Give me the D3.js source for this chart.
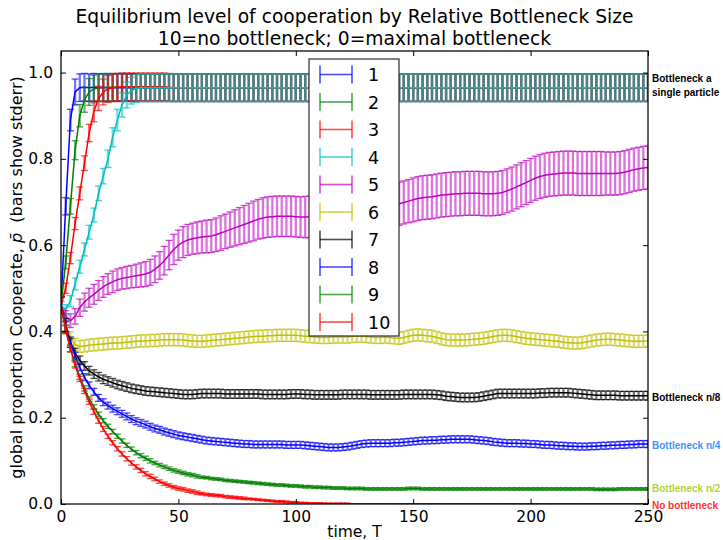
<!DOCTYPE html>
<html lang="en">
<head>
<meta charset="utf-8">
<title>Equilibrium level of cooperation by Relative Bottleneck Size</title>
<script src="https://cdn.jsdelivr.net/npm/d3@7"></script>
<style>
body { margin: 0; background: #fff; }
text { font-family: "DejaVu Sans", sans-serif; }
.note { font-family: "Liberation Sans", Arial, sans-serif; font-weight: bold; font-size: 10px; }
</style>
</head>
<body>
<script>
// sample times (every 2 steps of T)
var T = d3.range(0, 251, 2);

var labels = ["1", "2", "3", "4", "5", "6", "7", "8", "9", "10"];
var colors = ["#0000ff", "#008000", "#ff0000", "#00bfbf", "#bf00bf", "#bfbf00", "#000000", "#0000ff", "#008000", "#ff0000"];

// mean proportion cooperating, one array per bottleneck size
var p1 = [0.46, 0.69, 0.89, 0.955, 0.965, 0.966, 0.965, 0.966, 0.965, 0.965,
    0.965, 0.965, 0.965, 0.965, 0.965, 0.965, 0.965, 0.965, 0.965, 0.965,
    0.965, 0.965, 0.965, 0.965, 0.965, 0.965, 0.965, 0.965, 0.965, 0.965,
    0.965, 0.965, 0.965, 0.965, 0.965, 0.965, 0.965, 0.965, 0.965, 0.965,
    0.965, 0.965, 0.965, 0.965, 0.965, 0.965, 0.965, 0.965, 0.965, 0.965,
    0.965, 0.965, 0.965, 0.965, 0.965, 0.965, 0.965, 0.965, 0.965, 0.965,
    0.965, 0.965, 0.965, 0.965, 0.965, 0.965, 0.965, 0.965, 0.965, 0.965,
    0.965, 0.965, 0.965, 0.965, 0.965, 0.965, 0.965, 0.965, 0.965, 0.965,
    0.965, 0.965, 0.965, 0.965, 0.965, 0.965, 0.965, 0.965, 0.965, 0.965,
    0.965, 0.965, 0.965, 0.965, 0.965, 0.965, 0.965, 0.965, 0.965, 0.965,
    0.965, 0.965, 0.965, 0.965, 0.965, 0.965, 0.965, 0.965, 0.965, 0.965,
    0.965, 0.965, 0.965, 0.965, 0.965, 0.965, 0.965, 0.965, 0.965, 0.965,
    0.965, 0.965, 0.965, 0.965, 0.965, 0.965];
var p2 = [0.46, 0.56, 0.69, 0.82, 0.9, 0.937, 0.955, 0.962, 0.965, 0.966,
    0.966, 0.966, 0.966, 0.966, 0.966, 0.965, 0.965, 0.965, 0.965, 0.965,
    0.965, 0.965, 0.965, 0.965, 0.965, 0.965, 0.965, 0.965, 0.965, 0.965,
    0.965, 0.965, 0.965, 0.965, 0.965, 0.965, 0.965, 0.965, 0.965, 0.965,
    0.965, 0.965, 0.965, 0.965, 0.965, 0.965, 0.965, 0.965, 0.965, 0.965,
    0.965, 0.965, 0.965, 0.965, 0.965, 0.965, 0.965, 0.965, 0.965, 0.965,
    0.965, 0.965, 0.965, 0.965, 0.965, 0.965, 0.965, 0.965, 0.965, 0.965,
    0.965, 0.965, 0.965, 0.965, 0.965, 0.965, 0.965, 0.965, 0.965, 0.965,
    0.965, 0.965, 0.965, 0.965, 0.965, 0.965, 0.965, 0.965, 0.965, 0.965,
    0.965, 0.965, 0.965, 0.965, 0.965, 0.965, 0.965, 0.965, 0.965, 0.965,
    0.965, 0.965, 0.965, 0.965, 0.965, 0.965, 0.965, 0.965, 0.965, 0.965,
    0.965, 0.965, 0.965, 0.965, 0.965, 0.965, 0.965, 0.965, 0.965, 0.965,
    0.965, 0.965, 0.965, 0.965, 0.965, 0.965];
var p3 = [0.46, 0.5, 0.57, 0.65, 0.72, 0.79, 0.86, 0.91, 0.94, 0.955,
    0.962, 0.965, 0.966, 0.967, 0.967, 0.967, 0.967, 0.967, 0.967, 0.967,
    0.967, 0.967, 0.967, 0.966, 0.965, 0.965, 0.965, 0.965, 0.965, 0.965,
    0.965, 0.965, 0.965, 0.965, 0.965, 0.965, 0.965, 0.965, 0.965, 0.965,
    0.965, 0.965, 0.965, 0.965, 0.965, 0.965, 0.965, 0.965, 0.965, 0.965,
    0.965, 0.965, 0.965, 0.965, 0.965, 0.965, 0.965, 0.965, 0.965, 0.965,
    0.965, 0.965, 0.965, 0.965, 0.965, 0.965, 0.965, 0.965, 0.965, 0.965,
    0.965, 0.965, 0.965, 0.965, 0.965, 0.965, 0.965, 0.965, 0.965, 0.965,
    0.965, 0.965, 0.965, 0.965, 0.965, 0.965, 0.965, 0.965, 0.965, 0.965,
    0.965, 0.965, 0.965, 0.965, 0.965, 0.965, 0.965, 0.965, 0.965, 0.965,
    0.965, 0.965, 0.965, 0.965, 0.965, 0.965, 0.965, 0.965, 0.965, 0.965,
    0.965, 0.965, 0.965, 0.965, 0.965, 0.965, 0.965, 0.965, 0.965, 0.965,
    0.965, 0.965, 0.965, 0.965, 0.965, 0.965];
var p4 = [0.46, 0.45, 0.47, 0.51, 0.55, 0.59, 0.63, 0.67, 0.72, 0.76,
    0.80, 0.85, 0.89, 0.925, 0.948, 0.958, 0.963, 0.965, 0.965, 0.965,
    0.965, 0.965, 0.965, 0.965, 0.965, 0.965, 0.965, 0.965, 0.965, 0.965,
    0.965, 0.965, 0.965, 0.965, 0.965, 0.965, 0.965, 0.965, 0.965, 0.965,
    0.965, 0.965, 0.965, 0.965, 0.965, 0.965, 0.965, 0.965, 0.965, 0.965,
    0.965, 0.965, 0.965, 0.965, 0.965, 0.965, 0.965, 0.965, 0.965, 0.965,
    0.965, 0.965, 0.965, 0.965, 0.965, 0.965, 0.965, 0.965, 0.965, 0.965,
    0.965, 0.965, 0.965, 0.965, 0.965, 0.965, 0.965, 0.965, 0.965, 0.965,
    0.965, 0.965, 0.965, 0.965, 0.965, 0.965, 0.965, 0.965, 0.965, 0.965,
    0.965, 0.965, 0.965, 0.965, 0.965, 0.965, 0.965, 0.965, 0.965, 0.965,
    0.965, 0.965, 0.965, 0.965, 0.965, 0.965, 0.965, 0.965, 0.965, 0.965,
    0.965, 0.965, 0.965, 0.965, 0.965, 0.965, 0.965, 0.965, 0.965, 0.965,
    0.965, 0.965, 0.965, 0.965, 0.965, 0.965];
var p5 = [0.46, 0.435, 0.425, 0.435, 0.455, 0.468, 0.478, 0.486, 0.495, 0.503,
    0.51, 0.515, 0.52, 0.523, 0.525, 0.527, 0.529, 0.531, 0.533, 0.537,
    0.544, 0.553, 0.564, 0.577, 0.59, 0.6, 0.607, 0.612, 0.615, 0.617,
    0.619, 0.62, 0.621, 0.624, 0.628, 0.632, 0.636, 0.64, 0.644, 0.648,
    0.652, 0.656, 0.66, 0.663, 0.665, 0.666, 0.667, 0.667, 0.667, 0.667,
    0.666, 0.665, 0.665, 0.666, 0.667, 0.669, 0.671, 0.673, 0.675, 0.677,
    0.679, 0.681, 0.683, 0.685, 0.687, 0.689, 0.69, 0.691, 0.692, 0.693,
    0.694, 0.695, 0.696, 0.699, 0.702, 0.705, 0.708, 0.71, 0.711, 0.712,
    0.714, 0.716, 0.717, 0.718, 0.719, 0.719, 0.72, 0.72, 0.72, 0.72,
    0.719, 0.719, 0.719, 0.72, 0.722, 0.726, 0.73, 0.735, 0.74, 0.745,
    0.75, 0.755, 0.759, 0.762, 0.764, 0.765, 0.766, 0.767, 0.767, 0.767,
    0.766, 0.766, 0.766, 0.766, 0.766, 0.766, 0.766, 0.766, 0.766, 0.767,
    0.769, 0.772, 0.775, 0.777, 0.779, 0.78];
var p6 = [0.46, 0.41, 0.385, 0.37, 0.365, 0.366, 0.368, 0.369, 0.37, 0.371,
    0.372, 0.373, 0.373, 0.374, 0.375, 0.376, 0.377, 0.378, 0.378, 0.379,
    0.379, 0.38, 0.381, 0.381, 0.381, 0.381, 0.38, 0.379, 0.378, 0.377,
    0.377, 0.378, 0.379, 0.38, 0.381, 0.382, 0.383, 0.384, 0.385, 0.386,
    0.387, 0.388, 0.389, 0.389, 0.39, 0.39, 0.391, 0.391, 0.391, 0.391,
    0.391, 0.39, 0.389, 0.388, 0.387, 0.386, 0.386, 0.386, 0.387, 0.387,
    0.387, 0.387, 0.388, 0.389, 0.389, 0.388, 0.387, 0.386, 0.386, 0.387,
    0.386, 0.385, 0.384, 0.386, 0.389, 0.391, 0.392, 0.391, 0.39, 0.389,
    0.386, 0.383, 0.381, 0.38, 0.38, 0.38, 0.38, 0.381, 0.382, 0.383,
    0.384, 0.386, 0.388, 0.39, 0.391, 0.391, 0.39, 0.388, 0.386, 0.384,
    0.383, 0.382, 0.381, 0.38, 0.379, 0.378, 0.377, 0.375, 0.374, 0.373,
    0.373, 0.374, 0.376, 0.378, 0.38, 0.381, 0.382, 0.382, 0.381, 0.38,
    0.379, 0.378, 0.377, 0.377, 0.377, 0.378];
var p7 = [0.46, 0.415, 0.375, 0.35, 0.333, 0.32, 0.309, 0.301, 0.295, 0.289,
    0.285, 0.281, 0.277, 0.274, 0.271, 0.268, 0.266, 0.264, 0.262, 0.261,
    0.26, 0.259, 0.258, 0.257, 0.256, 0.255, 0.254, 0.254, 0.254, 0.255,
    0.256, 0.256, 0.256, 0.256, 0.256, 0.255, 0.255, 0.255, 0.255, 0.255,
    0.255, 0.255, 0.255, 0.254, 0.254, 0.254, 0.254, 0.254, 0.254, 0.255,
    0.255, 0.255, 0.254, 0.254, 0.253, 0.253, 0.253, 0.253, 0.253, 0.253,
    0.254, 0.254, 0.254, 0.254, 0.254, 0.254, 0.253, 0.253, 0.253, 0.253,
    0.253, 0.253, 0.253, 0.254, 0.254, 0.254, 0.254, 0.254, 0.254, 0.254,
    0.253, 0.252, 0.25, 0.249, 0.248, 0.247, 0.247, 0.247, 0.247, 0.248,
    0.25, 0.252, 0.254, 0.256, 0.256, 0.256, 0.256, 0.256, 0.256, 0.256,
    0.256, 0.256, 0.257, 0.257, 0.258, 0.258, 0.258, 0.258, 0.258, 0.257,
    0.256, 0.255, 0.254, 0.253, 0.252, 0.252, 0.252, 0.252, 0.252, 0.251,
    0.251, 0.251, 0.251, 0.251, 0.251, 0.251];
var p8 = [0.46, 0.412, 0.373, 0.343, 0.317, 0.294, 0.275, 0.26, 0.246, 0.236,
    0.228, 0.221, 0.215, 0.209, 0.203, 0.197, 0.192, 0.188, 0.184, 0.179,
    0.175, 0.172, 0.168, 0.165, 0.162, 0.159, 0.157, 0.155, 0.153, 0.151,
    0.149, 0.147, 0.146, 0.145, 0.144, 0.143, 0.142, 0.141, 0.14, 0.139,
    0.139, 0.138, 0.138, 0.138, 0.138, 0.138, 0.138, 0.138, 0.137, 0.137,
    0.137, 0.137, 0.136, 0.135, 0.134, 0.133, 0.132, 0.131, 0.131, 0.131,
    0.132, 0.133, 0.135, 0.137, 0.139, 0.14, 0.141, 0.141, 0.141, 0.141,
    0.141, 0.142, 0.142, 0.143, 0.144, 0.145, 0.146, 0.147, 0.147, 0.148,
    0.148, 0.149, 0.149, 0.15, 0.15, 0.15, 0.15, 0.15, 0.149, 0.148,
    0.147, 0.146, 0.144, 0.143, 0.142, 0.141, 0.141, 0.141, 0.14, 0.14,
    0.139, 0.139, 0.138, 0.137, 0.137, 0.136, 0.135, 0.135, 0.134, 0.134,
    0.133, 0.133, 0.133, 0.134, 0.134, 0.135, 0.135, 0.136, 0.136, 0.137,
    0.137, 0.138, 0.138, 0.139, 0.139, 0.139];
var p9 = [0.46, 0.405, 0.36, 0.325, 0.295, 0.268, 0.243, 0.225, 0.208, 0.193,
    0.18, 0.168, 0.157, 0.146, 0.136, 0.127, 0.119, 0.112, 0.106, 0.1,
    0.095, 0.09, 0.086, 0.082, 0.078, 0.075, 0.072, 0.069, 0.067, 0.064,
    0.062, 0.061, 0.059, 0.058, 0.057, 0.055, 0.054, 0.053, 0.052, 0.051,
    0.05, 0.049, 0.048, 0.047, 0.046, 0.045, 0.044, 0.044, 0.043, 0.042,
    0.042, 0.041, 0.04, 0.04, 0.039, 0.039, 0.038, 0.038, 0.037, 0.037,
    0.037, 0.036, 0.036, 0.036, 0.036, 0.035, 0.035, 0.035, 0.035, 0.035,
    0.035, 0.035, 0.035, 0.035, 0.036, 0.036, 0.036, 0.035, 0.035, 0.035,
    0.035, 0.035, 0.035, 0.035, 0.035, 0.035, 0.035, 0.035, 0.035, 0.035,
    0.035, 0.035, 0.035, 0.035, 0.035, 0.035, 0.035, 0.035, 0.035, 0.035,
    0.035, 0.035, 0.035, 0.035, 0.035, 0.035, 0.035, 0.035, 0.035, 0.035,
    0.035, 0.035, 0.035, 0.035, 0.034, 0.034, 0.034, 0.034, 0.034, 0.035,
    0.035, 0.035, 0.035, 0.035, 0.035, 0.035];
var p10 = [0.46, 0.405, 0.36, 0.322, 0.29, 0.262, 0.237, 0.214, 0.193, 0.174,
    0.157, 0.142, 0.128, 0.116, 0.105, 0.095, 0.086, 0.078, 0.07, 0.064,
    0.058, 0.052, 0.047, 0.043, 0.039, 0.036, 0.034, 0.031, 0.029, 0.026,
    0.024, 0.022, 0.021, 0.02, 0.019, 0.017, 0.016, 0.015, 0.014, 0.013,
    0.012, 0.011, 0.01, 0.009, 0.008, 0.007, 0.006, 0.006, 0.005, 0.004,
    0.004, 0.003, 0.003, 0.002, 0.002, 0.002, 0.001, 0.001, 0.001, 0.001,
    0.001, 0.001, 0, 0, 0, 0, 0, 0, 0, 0,
    0, 0, 0, 0, 0, 0, 0, 0, 0, 0,
    0, 0, 0, 0, 0, 0, 0, 0, 0, 0,
    0, 0, 0, 0, 0, 0, 0, 0, 0, 0,
    0, 0, 0, 0, 0, 0, 0, 0, 0, 0,
    0, 0, 0, 0, 0, 0, 0, 0, 0, 0,
    0, 0, 0, 0, 0, 0];

// standard errors
var e1 = [0.02, 0.02, 0.025, 0.03, 0.032, 0.032, 0.032, 0.032, 0.032, 0.032,
    0.032, 0.032, 0.032, 0.032, 0.032, 0.032, 0.032, 0.032, 0.032, 0.032,
    0.032, 0.032, 0.032, 0.032, 0.032, 0.032, 0.032, 0.032, 0.032, 0.032,
    0.032, 0.032, 0.032, 0.032, 0.032, 0.032, 0.032, 0.032, 0.032, 0.032,
    0.032, 0.032, 0.032, 0.032, 0.032, 0.032, 0.032, 0.032, 0.032, 0.032,
    0.032, 0.032, 0.032, 0.032, 0.032, 0.032, 0.032, 0.032, 0.032, 0.032,
    0.032, 0.032, 0.032, 0.032, 0.032, 0.032, 0.032, 0.032, 0.032, 0.032,
    0.032, 0.032, 0.032, 0.032, 0.032, 0.032, 0.032, 0.032, 0.032, 0.032,
    0.032, 0.032, 0.032, 0.032, 0.032, 0.032, 0.032, 0.032, 0.032, 0.032,
    0.032, 0.032, 0.032, 0.032, 0.032, 0.032, 0.032, 0.032, 0.032, 0.032,
    0.032, 0.032, 0.032, 0.032, 0.032, 0.032, 0.032, 0.032, 0.032, 0.032,
    0.032, 0.032, 0.032, 0.032, 0.032, 0.032, 0.032, 0.032, 0.032, 0.032,
    0.032, 0.032, 0.032, 0.032, 0.032, 0.032];
var e2 = [0.02, 0.015, 0.018, 0.022, 0.026, 0.029, 0.031, 0.032, 0.032, 0.032,
    0.032, 0.032, 0.032, 0.032, 0.032, 0.032, 0.032, 0.032, 0.032, 0.032,
    0.032, 0.032, 0.032, 0.032, 0.032, 0.032, 0.032, 0.032, 0.032, 0.032,
    0.032, 0.032, 0.032, 0.032, 0.032, 0.032, 0.032, 0.032, 0.032, 0.032,
    0.032, 0.032, 0.032, 0.032, 0.032, 0.032, 0.032, 0.032, 0.032, 0.032,
    0.032, 0.032, 0.032, 0.032, 0.032, 0.032, 0.032, 0.032, 0.032, 0.032,
    0.032, 0.032, 0.032, 0.032, 0.032, 0.032, 0.032, 0.032, 0.032, 0.032,
    0.032, 0.032, 0.032, 0.032, 0.032, 0.032, 0.032, 0.032, 0.032, 0.032,
    0.032, 0.032, 0.032, 0.032, 0.032, 0.032, 0.032, 0.032, 0.032, 0.032,
    0.032, 0.032, 0.032, 0.032, 0.032, 0.032, 0.032, 0.032, 0.032, 0.032,
    0.032, 0.032, 0.032, 0.032, 0.032, 0.032, 0.032, 0.032, 0.032, 0.032,
    0.032, 0.032, 0.032, 0.032, 0.032, 0.032, 0.032, 0.032, 0.032, 0.032,
    0.032, 0.032, 0.032, 0.032, 0.032, 0.032];
var e3 = [0.02, 0.012, 0.013, 0.014, 0.015, 0.017, 0.02, 0.024, 0.028, 0.03,
    0.031, 0.032, 0.032, 0.032, 0.032, 0.032, 0.032, 0.032, 0.032, 0.032,
    0.032, 0.032, 0.032, 0.032, 0.032, 0.032, 0.032, 0.032, 0.032, 0.032,
    0.032, 0.032, 0.032, 0.032, 0.032, 0.032, 0.032, 0.032, 0.032, 0.032,
    0.032, 0.032, 0.032, 0.032, 0.032, 0.032, 0.032, 0.032, 0.032, 0.032,
    0.032, 0.032, 0.032, 0.032, 0.032, 0.032, 0.032, 0.032, 0.032, 0.032,
    0.032, 0.032, 0.032, 0.032, 0.032, 0.032, 0.032, 0.032, 0.032, 0.032,
    0.032, 0.032, 0.032, 0.032, 0.032, 0.032, 0.032, 0.032, 0.032, 0.032,
    0.032, 0.032, 0.032, 0.032, 0.032, 0.032, 0.032, 0.032, 0.032, 0.032,
    0.032, 0.032, 0.032, 0.032, 0.032, 0.032, 0.032, 0.032, 0.032, 0.032,
    0.032, 0.032, 0.032, 0.032, 0.032, 0.032, 0.032, 0.032, 0.032, 0.032,
    0.032, 0.032, 0.032, 0.032, 0.032, 0.032, 0.032, 0.032, 0.032, 0.032,
    0.032, 0.032, 0.032, 0.032, 0.032, 0.032];
var e4 = [0.02, 0.012, 0.013, 0.014, 0.015, 0.015, 0.016, 0.016, 0.017, 0.018,
    0.02, 0.022, 0.025, 0.028, 0.03, 0.031, 0.032, 0.032, 0.032, 0.032,
    0.032, 0.032, 0.032, 0.032, 0.032, 0.032, 0.032, 0.032, 0.032, 0.032,
    0.032, 0.032, 0.032, 0.032, 0.032, 0.032, 0.032, 0.032, 0.032, 0.032,
    0.032, 0.032, 0.032, 0.032, 0.032, 0.032, 0.032, 0.032, 0.032, 0.032,
    0.032, 0.032, 0.032, 0.032, 0.032, 0.032, 0.032, 0.032, 0.032, 0.032,
    0.032, 0.032, 0.032, 0.032, 0.032, 0.032, 0.032, 0.032, 0.032, 0.032,
    0.032, 0.032, 0.032, 0.032, 0.032, 0.032, 0.032, 0.032, 0.032, 0.032,
    0.032, 0.032, 0.032, 0.032, 0.032, 0.032, 0.032, 0.032, 0.032, 0.032,
    0.032, 0.032, 0.032, 0.032, 0.032, 0.032, 0.032, 0.032, 0.032, 0.032,
    0.032, 0.032, 0.032, 0.032, 0.032, 0.032, 0.032, 0.032, 0.032, 0.032,
    0.032, 0.032, 0.032, 0.032, 0.032, 0.032, 0.032, 0.032, 0.032, 0.032,
    0.032, 0.032, 0.032, 0.032, 0.032, 0.032];
var e5 = [0.01, 0.013, 0.016, 0.018, 0.02, 0.021, 0.022, 0.023, 0.023, 0.024,
    0.024, 0.025, 0.025, 0.025, 0.026, 0.026, 0.027, 0.028, 0.029, 0.03,
    0.031, 0.032, 0.033, 0.034, 0.035, 0.035, 0.036, 0.036, 0.036, 0.037,
    0.037, 0.038, 0.038, 0.039, 0.04, 0.04, 0.041, 0.042, 0.043, 0.044,
    0.045, 0.046, 0.046, 0.047, 0.047, 0.047, 0.047, 0.047, 0.047, 0.047,
    0.047, 0.047, 0.048, 0.048, 0.048, 0.049, 0.049, 0.049, 0.05, 0.05,
    0.05, 0.05, 0.05, 0.05, 0.05, 0.05, 0.05, 0.05, 0.05, 0.05,
    0.05, 0.05, 0.05, 0.05, 0.05, 0.051, 0.051, 0.051, 0.051, 0.051,
    0.051, 0.051, 0.051, 0.051, 0.051, 0.051, 0.051, 0.051, 0.051, 0.051,
    0.051, 0.051, 0.051, 0.051, 0.051, 0.051, 0.051, 0.051, 0.051, 0.051,
    0.051, 0.051, 0.051, 0.051, 0.051, 0.051, 0.051, 0.051, 0.051, 0.051,
    0.051, 0.051, 0.051, 0.051, 0.051, 0.051, 0.05, 0.05, 0.05, 0.05,
    0.05, 0.05, 0.05, 0.05, 0.05, 0.05];
var e6 = [0.02, 0.016, 0.014, 0.014, 0.014, 0.014, 0.014, 0.014, 0.014, 0.014,
    0.014, 0.014, 0.014, 0.014, 0.014, 0.014, 0.014, 0.014, 0.014, 0.014,
    0.014, 0.014, 0.014, 0.014, 0.014, 0.014, 0.014, 0.014, 0.014, 0.014,
    0.014, 0.014, 0.014, 0.014, 0.014, 0.014, 0.014, 0.014, 0.014, 0.014,
    0.014, 0.014, 0.014, 0.014, 0.014, 0.014, 0.014, 0.014, 0.014, 0.014,
    0.014, 0.014, 0.014, 0.014, 0.014, 0.014, 0.014, 0.014, 0.014, 0.014,
    0.014, 0.014, 0.014, 0.014, 0.014, 0.014, 0.014, 0.014, 0.014, 0.014,
    0.014, 0.014, 0.014, 0.014, 0.014, 0.014, 0.014, 0.014, 0.014, 0.014,
    0.014, 0.014, 0.014, 0.014, 0.014, 0.014, 0.014, 0.014, 0.014, 0.014,
    0.014, 0.014, 0.014, 0.014, 0.014, 0.014, 0.014, 0.014, 0.014, 0.014,
    0.014, 0.014, 0.014, 0.014, 0.014, 0.014, 0.014, 0.014, 0.014, 0.014,
    0.014, 0.014, 0.014, 0.014, 0.014, 0.014, 0.014, 0.014, 0.014, 0.014,
    0.014, 0.014, 0.014, 0.014, 0.014, 0.014];
var e7 = [0.02, 0.015, 0.012, 0.011, 0.01, 0.01, 0.01, 0.01, 0.01, 0.01,
    0.01, 0.01, 0.01, 0.01, 0.01, 0.01, 0.01, 0.01, 0.01, 0.01,
    0.01, 0.01, 0.01, 0.01, 0.01, 0.01, 0.01, 0.01, 0.01, 0.01,
    0.01, 0.01, 0.01, 0.01, 0.01, 0.01, 0.01, 0.01, 0.01, 0.01,
    0.01, 0.01, 0.01, 0.01, 0.01, 0.01, 0.01, 0.01, 0.01, 0.01,
    0.01, 0.01, 0.01, 0.01, 0.01, 0.01, 0.01, 0.01, 0.01, 0.01,
    0.01, 0.01, 0.01, 0.01, 0.01, 0.01, 0.01, 0.01, 0.01, 0.01,
    0.01, 0.01, 0.01, 0.01, 0.01, 0.01, 0.01, 0.01, 0.01, 0.01,
    0.01, 0.01, 0.01, 0.01, 0.01, 0.01, 0.01, 0.01, 0.01, 0.01,
    0.01, 0.01, 0.01, 0.01, 0.01, 0.01, 0.01, 0.01, 0.01, 0.01,
    0.01, 0.01, 0.01, 0.01, 0.01, 0.01, 0.01, 0.01, 0.01, 0.01,
    0.01, 0.01, 0.01, 0.01, 0.01, 0.01, 0.01, 0.01, 0.01, 0.01,
    0.01, 0.01, 0.01, 0.01, 0.01, 0.01];
var e8 = [0.02, 0.012, 0.01, 0.009, 0.008, 0.008, 0.008, 0.008, 0.008, 0.008,
    0.008, 0.008, 0.008, 0.008, 0.008, 0.008, 0.008, 0.008, 0.008, 0.008,
    0.008, 0.008, 0.008, 0.008, 0.008, 0.008, 0.008, 0.008, 0.008, 0.008,
    0.008, 0.008, 0.008, 0.008, 0.008, 0.008, 0.008, 0.008, 0.008, 0.008,
    0.008, 0.008, 0.008, 0.008, 0.008, 0.008, 0.008, 0.008, 0.008, 0.008,
    0.008, 0.008, 0.008, 0.008, 0.008, 0.008, 0.008, 0.008, 0.008, 0.008,
    0.008, 0.008, 0.008, 0.008, 0.008, 0.008, 0.008, 0.008, 0.008, 0.008,
    0.008, 0.008, 0.008, 0.008, 0.008, 0.008, 0.008, 0.008, 0.008, 0.008,
    0.008, 0.008, 0.008, 0.008, 0.008, 0.008, 0.008, 0.008, 0.008, 0.008,
    0.008, 0.008, 0.008, 0.008, 0.008, 0.008, 0.008, 0.008, 0.008, 0.008,
    0.008, 0.008, 0.008, 0.008, 0.008, 0.008, 0.008, 0.008, 0.008, 0.008,
    0.008, 0.008, 0.008, 0.008, 0.008, 0.008, 0.008, 0.008, 0.008, 0.008,
    0.008, 0.008, 0.008, 0.008, 0.008, 0.008];
var e9 = [0.02, 0.01, 0.008, 0.007, 0.006, 0.006, 0.005, 0.005, 0.005, 0.005,
    0.005, 0.005, 0.005, 0.005, 0.005, 0.005, 0.005, 0.005, 0.005, 0.005,
    0.004, 0.004, 0.004, 0.004, 0.004, 0.004, 0.004, 0.004, 0.004, 0.004,
    0.003, 0.003, 0.003, 0.003, 0.003, 0.003, 0.003, 0.003, 0.003, 0.003,
    0.003, 0.003, 0.003, 0.003, 0.003, 0.003, 0.003, 0.003, 0.003, 0.003,
    0.003, 0.003, 0.003, 0.003, 0.003, 0.003, 0.003, 0.003, 0.003, 0.003,
    0.003, 0.003, 0.003, 0.003, 0.003, 0.003, 0.003, 0.003, 0.003, 0.003,
    0.003, 0.003, 0.003, 0.003, 0.003, 0.003, 0.003, 0.003, 0.003, 0.003,
    0.003, 0.003, 0.003, 0.003, 0.003, 0.003, 0.003, 0.003, 0.003, 0.003,
    0.003, 0.003, 0.003, 0.003, 0.003, 0.003, 0.003, 0.003, 0.003, 0.003,
    0.003, 0.003, 0.003, 0.003, 0.003, 0.003, 0.003, 0.003, 0.003, 0.003,
    0.003, 0.003, 0.003, 0.003, 0.003, 0.003, 0.003, 0.003, 0.003, 0.003,
    0.003, 0.003, 0.003, 0.003, 0.003, 0.003];
var e10 = [0.02, 0.008, 0.007, 0.007, 0.006, 0.006, 0.006, 0.006, 0.006, 0.006,
    0.005, 0.005, 0.005, 0.005, 0.005, 0.005, 0.005, 0.005, 0.005, 0.005,
    0.004, 0.004, 0.004, 0.004, 0.004, 0.004, 0.004, 0.004, 0.004, 0.004,
    0.003, 0.003, 0.003, 0.003, 0.003, 0.003, 0.003, 0.003, 0.003, 0.003,
    0.002, 0.002, 0.002, 0.002, 0.002, 0.002, 0.002, 0.002, 0.002, 0.002,
    0.001, 0.001, 0.001, 0.001, 0.001, 0.001, 0.001, 0.001, 0.001, 0.001,
    0.001, 0.001, 0, 0, 0, 0, 0, 0, 0, 0,
    0, 0, 0, 0, 0, 0, 0, 0, 0, 0,
    0, 0, 0, 0, 0, 0, 0, 0, 0, 0,
    0, 0, 0, 0, 0, 0, 0, 0, 0, 0,
    0, 0, 0, 0, 0, 0, 0, 0, 0, 0,
    0, 0, 0, 0, 0, 0, 0, 0, 0, 0,
    0, 0, 0, 0, 0, 0];

var means = [p1, p2, p3, p4, p5, p6, p7, p8, p9, p10];
var errs = [e1, e2, e3, e4, e5, e6, e7, e8, e9, e10];

var xTicks = [0, 50, 100, 150, 200, 250];
var yTicks = [0, 0.2, 0.4, 0.6, 0.8, 1.0];

// side notes
var notes = [
    { lines: ["Bottleneck a", "single particle"], y: 82, color: "#000000" },
    { lines: ["Bottleneck n/8"], y: 401, color: "#000000" },
    { lines: ["Bottleneck n/4"], y: 449, color: "#3d94ff" },
    { lines: ["Bottleneck n/2"], y: 492, color: "#b5d335" },
    { lines: ["No bottleneck"], y: 509, color: "#ff3333" }
];

//svg size
var w = 723, h = 540;
var pLeft = 61, pRight = 648, pTop = 51, pBottom = 504;

var svg = d3.select("body").append("svg")
    .attr("width", w)
    .attr("height", h);

var x = d3.scaleLinear().domain([0, 250]).range([pLeft, pRight]);
var y = d3.scaleLinear().domain([0, 1.05]).range([pBottom, pTop]);

svg.append("clipPath").attr("id", "plotclip")
    .append("rect")
    .attr("x", pLeft).attr("y", pTop)
    .attr("width", pRight - pLeft).attr("height", pBottom - pTop);

var plot = svg.append("g").attr("clip-path", "url(#plotclip)");

var line = d3.line()
    .x(function(d) { return x(d.t); })
    .y(function(d) { return y(d.v); });

// draw each series: mean line, then bars and caps on top
means.forEach(function(vals, k) {
    var pts = vals.map(function(v, i) {
        return { t: T[i], v: v, e: errs[k][i] };
    });
    var g = plot.append("g");
    g.append("path")
        .datum(pts)
        .attr("fill", "none")
        .attr("stroke", colors[k])
        .attr("stroke-width", 1.5)
        .attr("d", line);
    g.selectAll("line.bar")
        .data(pts)
        .enter()
        .append("line")
        .attr("class", "bar")
        .attr("x1", function(d) { return x(d.t); })
        .attr("x2", function(d) { return x(d.t); })
        .attr("y1", function(d) { return y(d.v - d.e); })
        .attr("y2", function(d) { return y(d.v + d.e); })
        .attr("stroke", colors[k])
        .attr("stroke-width", 2.3)
        .attr("stroke-opacity", 0.55);
    [-1, 1].forEach(function(s) {
        g.selectAll("line.cap" + s)
            .data(pts)
            .enter()
            .append("line")
            .attr("x1", function(d) { return x(d.t) - 3.5; })
            .attr("x2", function(d) { return x(d.t) + 3.5; })
            .attr("y1", function(d) { return y(d.v + s * d.e); })
            .attr("y2", function(d) { return y(d.v + s * d.e); })
            .attr("stroke", colors[k])
            .attr("stroke-width", 1.3)
            .attr("stroke-opacity", 0.7);
    });
});

// axes with inward ticks on all four sides
var axB = svg.append("g")
    .attr("transform", "translate(0," + pBottom + ")")
    .call(d3.axisBottom(x).tickValues(xTicks).tickSizeInner(-5).tickSizeOuter(0).tickPadding(7)
        .tickFormat(d3.format("d")));
var axT = svg.append("g")
    .attr("transform", "translate(0," + pTop + ")")
    .call(d3.axisTop(x).tickValues(xTicks).tickSizeInner(-5).tickSizeOuter(0).tickFormat(""));
var axL = svg.append("g")
    .attr("transform", "translate(" + pLeft + ",0)")
    .call(d3.axisLeft(y).tickValues(yTicks).tickSizeInner(-5).tickSizeOuter(0).tickPadding(8)
        .tickFormat(d3.format(".1f")));
var axR = svg.append("g")
    .attr("transform", "translate(" + pRight + ",0)")
    .call(d3.axisRight(y).tickValues(yTicks).tickSizeInner(-5).tickSizeOuter(0).tickFormat(""));

[axB, axT, axL, axR].forEach(function(a) {
    a.select(".domain").remove();
    a.selectAll(".tick line").attr("stroke", "#000").attr("stroke-width", 1);
    a.selectAll(".tick text")
        .attr("font-family", "DejaVu Sans")
        .attr("font-size", 15.5)
        .attr("fill", "#000");
});

svg.append("rect")
    .attr("x", pLeft).attr("y", pTop)
    .attr("width", pRight - pLeft).attr("height", pBottom - pTop)
    .attr("fill", "none")
    .attr("stroke", "#000")
    .attr("stroke-width", 1.25);

// title
svg.append("text")
    .attr("x", (pLeft + pRight) / 2).attr("y", 23)
    .attr("text-anchor", "middle")
    .attr("font-size", 18.7)
    .text("Equilibrium level of cooperation by Relative Bottleneck Size");
svg.append("text")
    .attr("x", (pLeft + pRight) / 2).attr("y", 45)
    .attr("text-anchor", "middle")
    .attr("font-size", 18.7)
    .text("10=no bottleneck; 0=maximal bottleneck");

// axis labels
svg.append("text")
    .attr("x", (pLeft + pRight) / 2).attr("y", 537)
    .attr("text-anchor", "middle")
    .attr("font-size", 15.5)
    .text("time, T");

var yl = svg.append("text")
    .attr("transform", "translate(22," + ((pTop + pBottom) / 2) + ") rotate(-90)")
    .attr("text-anchor", "middle")
    .attr("font-size", 16)
    .style("white-space", "pre");
yl.append("tspan").text("global proportion Cooperate, ");
yl.append("tspan").attr("font-style", "italic").text("p\u0304");
yl.append("tspan").text("  (bars show stderr)");

// legend
var lg = svg.append("g");
lg.append("rect")
    .attr("x", 309).attr("y", 59)
    .attr("width", 90).attr("height", 277)
    .attr("fill", "#fff")
    .attr("stroke", "#333")
    .attr("stroke-width", 1.25);
labels.forEach(function(lab, i) {
    var ly = 74.5 + i * 27.5;
    var item = lg.append("g").attr("stroke", colors[i]).attr("stroke-opacity", 0.7).attr("stroke-width", 1.6);
    item.append("line").attr("x1", 320).attr("x2", 352).attr("y1", ly).attr("y2", ly);
    item.append("line").attr("x1", 320).attr("x2", 320).attr("y1", ly - 9).attr("y2", ly + 9);
    item.append("line").attr("x1", 352).attr("x2", 352).attr("y1", ly - 9).attr("y2", ly + 9);
    lg.append("text")
        .attr("x", 368).attr("y", ly + 6.5)
        .attr("font-size", 17.5)
        .text(lab);
});

// notes to the right of the axes
notes.forEach(function(n) {
    n.lines.forEach(function(s, j) {
        svg.append("text")
            .attr("class", "note")
            .attr("x", 652).attr("y", n.y + j * 13.5)
            .attr("fill", n.color)
            .text(s);
    });
});
</script>
</body>
</html>
